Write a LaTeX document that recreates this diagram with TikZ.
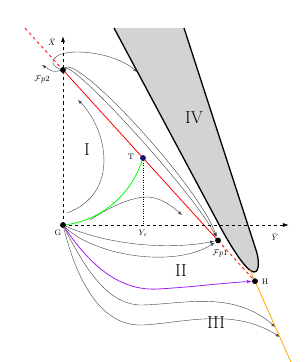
\documentclass[tikz,border=0pt]{standalone}
\usepackage{amsmath,amssymb}
\usetikzlibrary{arrows.meta}
\definecolor{regiongray}{RGB}{211,211,211}
\definecolor{sepviolet}{RGB}{160,32,240}
\definecolor{orangeline}{RGB}{255,165,0}
\definecolor{tnavy}{RGB}{10,20,120}

\begin{document}
\begin{tikzpicture}[scale=0.35,
  dot/.style={circle,fill=black,inner sep=0pt,minimum size=5.5pt},
  flow/.style={black!75,line width=0.4pt,-{Latex[length=4pt,width=3pt]}},
  axis/.style={dashed,line width=0.9pt,-{Latex[length=6pt,width=4pt]}},
  lab/.style={font=\footnotesize},
  region/.style={font=\LARGE}]
  \useasboundingbox (-6.3,-13.7) rectangle (24.4,22.5);
  % region IV
  \fill[regiongray] (5.1,19.7) -- (15.2,0.8) .. controls (16.5,-1.7) and (18.3,-4.7) .. (19.1,-4.7)
     .. controls (19.7,-4.7) and (19.6,-3.4) .. (19.3,-2.5) -- (12.1,19.7) -- cycle;
  \draw[line width=1.3pt] (5.1,19.7) -- (15.2,0.8) .. controls (16.5,-1.7) and (18.3,-4.7) .. (19.1,-4.7)
     .. controls (19.7,-4.7) and (19.6,-3.4) .. (19.3,-2.5) -- (12.1,19.7);
  % points
  \node[dot] (G) at (0,0) {};
  \node[dot] (Fp2) at (0,15.5) {};
  \node[dot] (Fp1) at (15.5,-1.55) {};
  \node[dot,fill=tnavy] (T) at (8,6.7) {};
  \node[dot] (H) at (19.2,-5.62) {};
  \coordinate (Xtip) at (0,18.9);
  \coordinate (Ytip) at (22.6,0);
  \coordinate (Tfoot) at (8,0);
  \coordinate (redtop) at (-3.8,19.68);
  \coordinate (otop) at (18.7,-4.5);
  \coordinate (obot) at (22.8,-13.72);
  \coordinate (o1) at (21.23,-10.2);
  \coordinate (o2) at (21.68,-11.2);
  \coordinate (a1) at (-2.1,16.0);
  \coordinate (b1) at (7.44,15.3);
  \coordinate (e1) at (0.4,1.2);
  \coordinate (e2) at (1.5,12.5);
  \coordinate (f1) at (2.7,0.5);
  \coordinate (f2) at (11.9,1.0);
  % flows
  \draw[flow] (Fp2) .. controls (-1.0,15.3) .. (a1);
  \draw[flow] (Fp2) .. controls (-1.6,16.0) and (-1.2,17.3) .. (1.4,17.3) .. controls (3.8,17.3) and (6.0,16.5) .. (b1);
  \draw[flow,shorten >=1pt] (Fp2) .. controls (1.5,17.0) and (13.5,4.0) .. (Fp1);
  \draw[flow,shorten >=1pt] (Fp2) .. controls (1.2,16.2) and (13.0,3.3) .. (Fp1);
  \draw[flow] (e1) .. controls (5.8,3.2) and (4.4,9.6) .. (e2);
  \draw[flow] (f1) .. controls (5,2.0) and (7,2.8) .. (8.4,2.8) .. controls (9.6,2.8) and (10.8,2.0) .. (f2);
  \draw[flow,shorten >=1pt] (G) .. controls (4,-1.8) and (10,-2.6) .. (Fp1);
  \draw[flow,shorten >=1pt] (G) .. controls (3,-3) and (11,-4.4) .. (Fp1);
  \draw[flow] (G) .. controls (2.5,-5) and (4.8,-8.1) .. (8,-8.0) .. controls (12,-7.9) and (17,-6.5) .. (o1);
  \draw[flow] (G) .. controls (1.5,-6) and (4,-10.2) .. (8,-10.0) .. controls (12,-9.8) and (17,-8.2) .. (o2);
  \draw[sepviolet,line width=0.8pt,-{Latex[length=5pt,width=3.5pt]}] (G) .. controls (3,-4.5) and (6,-6.6) .. (9.5,-6.4)
     .. controls (13,-6.2) and (16,-5.8) .. (H);
  \draw[green,line width=0.8pt] (G.center) .. controls (3.5,0.3) and (6.8,2.8) .. (T.center);
  % separatrices
  \draw[orangeline,line width=0.8pt] (otop) -- (H.center) -- (obot);
  \draw[red,line width=0.8pt] (Fp2.center) -- (Fp1.center);
  \draw[red,line width=0.8pt,dashed] (redtop) -- (Fp2.center);
  \draw[red,line width=0.8pt,dashed] (Fp1.center) -- (H.center);
  % axes
  \draw[axis] (G.center) -- (Xtip);
  \draw[axis] (G.center) -- (Ytip);
  \draw[dotted] (T.center) -- (Tfoot);
  \node[dot] at (G) {};
  \node[dot] at (Fp2) {};
  \node[dot] at (Fp1) {};
  \node[dot,fill=tnavy] at (T) {};
  \node[dot] at (H) {};
  % labels
  \node[lab] (Xlab) at (-1.1,18.3) {$\bar X$};
  \node[lab] (Ylab) at (21.2,-1.2) {$\bar Y$};
  \node[lab] (Yclab) at (8,-0.8) {$Y_c$};
  \node[lab] (Tlab) at (6.8,6.8) {T};
  \node[lab] (Glab) at (-0.5,-0.8) {G};
  \node[lab] (Hlab) at (20.2,-5.7) {H};
  \node[lab] (Fp1lab) at (15.7,-2.9) {$\mathcal{F}p1$};
  \node[lab] (Fp2lab) at (-2.1,14.5) {$\mathcal{F}p2$};
  \node[region] (rI) at (2.4,7.5) {I};
  \node[region] (rII) at (11.8,-4.6) {II};
  \node[region] (rIII) at (15.3,-9.8) {III};
  \node[region] (rIV) at (13.1,10.7) {IV};
\end{tikzpicture}
\end{document}
